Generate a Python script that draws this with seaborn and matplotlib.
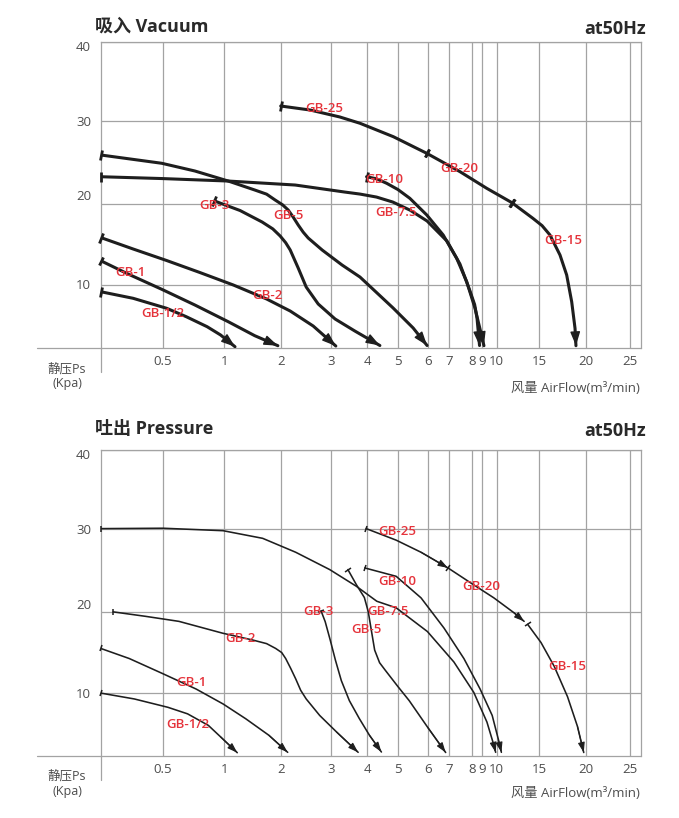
import numpy as np
import pandas as pd
import matplotlib
matplotlib.use("Agg")
import matplotlib.pyplot as plt
import seaborn as sns
from matplotlib.markers import MarkerStyle
from matplotlib.transforms import Affine2D, ScaledTranslation

# ---------------- data ----------------
models = ["GB-1/2", "GB-1", "GB-2", "GB-3", "GB-5", "GB-7.5", "GB-10", "GB-25", "GB-20", "GB-15"]

x_ticks = [0.5, 1, 2, 3, 4, 5, 6, 7, 8, 9, 10, 15, 20, 25]
x_tick_labels = ["0.5", "1", "2", "3", "4", "5", "6", "7", "8", "9", "10", "15", "20", "25"]
y_ticks = [10, 20, 30, 40]
y_tick_labels = ["10", "20", "30", "40"]

vacuum_flow = {
    "GB-1/2": [0, 0.26, 0.53, 0.69, 0.86, 0.97, 1.19],
    "GB-1":   [0, 0.22, 0.49, 0.76, 1.07, 1.54, 1.95],
    "GB-2":   [0, 0.26, 0.53, 0.80, 1.16, 1.75, 2.19, 2.65, 3.14],
    "GB-3":   [0.92, 1.28, 1.67, 1.86, 1.99, 2.10, 2.19, 2.35, 2.51, 2.75, 3.12, 3.66, 4.41],
    "GB-5":   [0, 0.49, 0.76, 1.07, 1.54, 1.75, 1.90, 2.04, 2.15, 2.25, 2.35, 2.45, 2.55, 2.83, 3.31, 3.80, 4.84, 5.50, 5.96],
    "GB-7.5": [0, 0.49, 1.07, 2.29, 3.39, 3.80, 4.30, 4.83, 5.40, 5.96, 6.90, 7.47, 7.90, 8.25, 8.50, 8.77],
    "GB-10":  [3.98, 4.30, 4.63, 5.00, 5.39, 5.95, 6.72, 7.33, 7.76, 8.29, 8.60, 8.89, 9.15],
    "GB-25":  [2.0, 2.59, 3.25, 3.80, 4.85, 5.95],
    "GB-20":  [5.95, 7.47, 9.33, 11.76],
    "GB-15":  [11.76, 14.25, 15.30, 16.15, 17.23, 17.95, 18.49, 18.85, 18.95],
}
vacuum_ps = {
    "GB-1/2": [8.94, 7.9, 6.32, 4.99, 3.41, 2.1, 0.25],
    "GB-1":   [12.99, 11.35, 9.32, 6.84, 4.2, 1.99, 0.41],
    "GB-2":   [15.84, 14.43, 13.01, 11.54, 10.0, 7.79, 5.89, 3.52, 0.36],
    "GB-3":   [20.33, 19.16, 17.75, 16.9, 16.03, 15.2, 14.31, 12.09, 9.68, 7.0, 4.63, 2.73, 0.44],
    "GB-5":   [25.87, 24.87, 23.94, 22.73, 21.65, 21.15, 20.45, 19.85, 19.22, 18.35, 17.38, 16.5, 15.78, 14.3, 12.46, 10.98, 6.37, 3.21, 0.44],
    "GB-7.5": [23.25, 23.03, 22.73, 22.25, 21.4, 21.16, 20.8, 20.2, 19.2, 17.87, 15.41, 12.58, 9.05, 6.9, 4.79, 0.44],
    "GB-10":  [23.25, 23.0, 22.46, 21.7, 20.65, 18.61, 16.15, 13.28, 10.41, 6.32, 4.4, 2.62, 0.41],
    "GB-25":  [31.86, 31.35, 30.47, 29.69, 28.07, 26.07],
    "GB-20":  [26.07, 23.86, 21.86, 20.14],
    "GB-15":  [20.14, 18.2, 17.3, 16.15, 13.69, 11.23, 7.36, 3.16, 0.41],
}

pressure_flow = {
    "GB-1/2": [0, 0.27, 0.54, 0.70, 0.87, 0.97, 1.23],
    "GB-1":   [0, 0.23, 0.50, 0.77, 0.99, 1.38, 1.79, 2.14],
    "GB-2":   [0.10, 0.36, 0.63, 0.985, 1.50, 1.75, 1.91, 2.02, 2.10, 2.20, 2.30, 2.40, 2.51, 2.78, 3.16, 3.75],
    "GB-3":   [2.81, 2.89, 2.99, 3.13, 3.29, 3.51, 3.78, 4.07, 4.46],
    "GB-5":   [3.47, 3.70, 3.92, 4.03, 4.14, 4.24, 4.40, 4.59, 5.0, 5.37, 5.98, 6.84],
    "GB-7.5": [0, 0.50, 0.99, 1.68, 2.30, 2.98, 3.70, 4.31, 4.94, 5.97, 7.21, 8.16, 9.35, 9.81, 9.93],
    "GB-10":  [3.93, 4.94, 5.76, 6.76, 7.64, 8.83, 9.70, 10.27, 10.55],
    "GB-25":  [3.97, 4.94, 5.76, 6.95],
    "GB-20":  [6.95, 7.93, 9.81, 12.04, 13.22],
    "GB-15":  [13.63, 15.18, 16.61, 18.04, 19.11, 19.79],
}
pressure_ps = {
    "GB-1/2": [9.95, 9.02, 7.7, 6.67, 4.84, 3.02, 0.52],
    "GB-1":   [15.46, 14.21, 12.34, 10.46, 8.23, 5.89, 3.28, 0.58],
    "GB-2":   [19.96, 19.41, 18.79, 17.34, 16.5, 16.05, 15.46, 14.95, 14.21, 13.0, 11.71, 10.3, 9.02, 6.41, 3.8, 0.58],
    "GB-3":   [20.04, 18.75, 16.5, 14.0, 11.5, 8.75, 5.94, 3.28, 0.63],
    "GB-5":   [25.06, 23.25, 21.69, 20.0, 17.5, 15.25, 13.7, 12.75, 10.75, 8.75, 4.53, 0.55],
    "GB-7.5": [30.0, 30.05, 29.75, 28.83, 27.15, 25.06, 23.05, 21.24, 20.45, 17.54, 13.79, 10.04, 5.36, 1.72, 0.58],
    "GB-10":  [25.26, 24.25, 21.65, 17.96, 14.21, 10.46, 6.41, 2.23, 0.58],
    "GB-25":  [30.0, 28.61, 27.15, 25.26],
    "GB-20":  [25.26, 23.46, 21.65, 19.84, 18.79],
    "GB-15":  [18.43, 16.19, 13.25, 9.38, 4.69, 0.55],
}

# ---------------- styling / layout ----------------
INK = "#1e1e1e"
RED = "#e5333b"
GRID = "#a3a3a3"
TXT = "#4d4d4d"
W, H = 679, 818

# axis scale anchor positions (pixels in the 679x818 reference)
X_ANCH_V = [0, 0.5, 1, 2, 3, 4, 5, 6, 7, 8, 9, 10, 15, 20, 25, 26.2]
X_ANCH_P = [100.7, 163, 224.3, 280.7, 330.7, 367.3, 398, 428.3, 449, 472.3, 481.7, 496.7, 539.3, 585.7, 630.3, 641.3]
Y_ANCH_V = [0, 10, 20, 30, 40]
Y_ANCH_P = [0, 63.3, 144.6, 227.6, 306.6]


def fx(v):
    return np.interp(v, X_ANCH_V, X_ANCH_P)


def fx_inv(p):
    return np.interp(p, X_ANCH_P, X_ANCH_V)


def fy(v):
    return np.interp(v, Y_ANCH_V, Y_ANCH_P)


def fy_inv(p):
    return np.interp(p, Y_ANCH_P, Y_ANCH_V)


sns.set_theme(style="white")
plt.rcParams["font.family"] = ["Open Sans", "Noto Sans CJK SC", "DejaVu Sans"]
plt.rcParams["axes.unicode_minus"] = False

fig = plt.figure(figsize=(W / 100, H / 100), dpi=100)
fig.patch.set_facecolor("white")

panels = [
    dict(rect=[100.7 / W, 1 - 348.3 / H, 540.6 / W, 306.6 / H], flow=vacuum_flow, ps=vacuum_ps,
         thick=True, title="吸入 Vacuum", title_base=31.7, hz_base=34.3,
         ps_lab=(369, 383), air_lab=389,
         labels={"GB-25": (2.87, 31.6), "GB-20": (7.43, 24.2), "GB-10": (4.54, 22.86),
                 "GB-7.5": (4.95, 18.86), "GB-15": (17.61, 15.53), "GB-3": (0.92, 19.72),
                 "GB-5": (2.15, 18.49), "GB-1": (0.24, 11.48), "GB-2": (1.76, 8.42),
                 "GB-1/2": (0.50, 5.42)},
         ylab_off={40: 4.0, 30: 0.0, 20: -8.7, 10: -1.0}),
    dict(rect=[100.7 / W, 1 - 756 / H, 540.6 / W, 306.3 / H], flow=pressure_flow, ps=pressure_ps,
         thick=False, title="吐出 Pressure", title_base=434, hz_base=436,
         ps_lab=(776, 791), air_lab=793.3,
         labels={"GB-25": (4.97, 29.6), "GB-20": (8.93, 23.05), "GB-10": (4.97, 23.65),
                 "GB-7.5": (4.69, 20.04), "GB-5": (3.97, 17.75), "GB-15": (17.97, 13.29),
                 "GB-3": (2.75, 20.04), "GB-2": (1.29, 16.71), "GB-1": (0.73, 11.21),
                 "GB-1/2": (0.70, 4.95)},
         ylab_off={40: 4.3, 30: 0.0, 20: -8.0, 10: 0.0}),
]


def perp_tick(ax, x0, y0, x1, y1, size, lw):
    p0 = ax.transData.transform((x0, y0))
    p1 = ax.transData.transform((x1, y1))
    ang = np.degrees(np.arctan2(p1[1] - p0[1], p1[0] - p0[0]))
    m = MarkerStyle("|", transform=Affine2D().rotate_deg(ang))
    ax.plot([x0], [y0], marker=m, ms=size, mew=lw, color=INK, ls="none", clip_on=False, zorder=4)


for pan in panels:
    ax = fig.add_axes(pan["rect"])
    ax.set_xscale("function", functions=(fx, fx_inv))
    ax.set_yscale("function", functions=(fy, fy_inv))
    ax.set_xlim(0, 26.2)
    ax.set_ylim(0, 40)

    rows = []
    for m in models:
        for i, (xv, yv) in enumerate(zip(pan["flow"][m], pan["ps"][m])):
            rows.append({"model": m, "flow": xv, "ps": yv, "i": i})
    df = pd.DataFrame(rows)

    lw = 2.2 if pan["thick"] else 1.15
    sns.lineplot(data=df, x="flow", y="ps", hue="model", palette={m: INK for m in models},
                 estimator=None, sort=False, legend=False, lw=lw, ax=ax, zorder=3,
                 solid_joinstyle="round", solid_capstyle="round")
    ax.set_xlim(0, 26.2)
    ax.set_ylim(0, 40)

    # grid & frame
    ax.set_xticks(x_ticks)
    ax.set_xticklabels(x_tick_labels)
    ax.set_yticks(y_ticks)
    ax.set_yticklabels(y_tick_labels)
    ax.grid(True, color=GRID, lw=0.9)
    ax.tick_params(length=0, labelsize=9.5, labelcolor=TXT)
    ax.tick_params(axis="x", pad=5)
    ax.tick_params(axis="y", pad=7)
    ax.set_xlabel("")
    ax.set_ylabel("")
    for s in ["left", "top", "right"]:
        ax.spines[s].set_color(GRID)
        ax.spines[s].set_linewidth(0.9)
        ax.spines[s].set_visible(True)
    ax.spines["bottom"].set_visible(False)
    ax.plot([-0.117, 1.0], [0, 0], transform=ax.transAxes, color=GRID, lw=0.9, clip_on=False, zorder=2)
    ax.plot([0, 0], [0, -0.078], transform=ax.transAxes, color=GRID, lw=0.9, clip_on=False, zorder=2)

    # start ticks, end arrows / ticks
    tsize = 7.0 if pan["thick"] else 5.0
    tlw = 2.0 if pan["thick"] else 1.1
    for m in models:
        xs, ys = pan["flow"][m], pan["ps"][m]
        perp_tick(ax, xs[0], ys[0], xs[1], ys[1], tsize, tlw)
        mid_end = m in ("GB-25", "GB-20")
        if pan["thick"] and mid_end:
            perp_tick(ax, xs[-1], ys[-1], xs[-2], ys[-2], tsize, tlw)
        else:
            if pan["thick"]:
                style = "-|>,head_length=0.7,head_width=0.25"
                alw = 1.0
            else:
                style = "-|>,head_length=0.5,head_width=0.17"
                alw = 0.8
            ax.annotate("", xy=(xs[-1], ys[-1]), xytext=(xs[-2], ys[-2]),
                        arrowprops=dict(arrowstyle=style, color=INK, lw=alw,
                                        shrinkA=0, shrinkB=0),
                        annotation_clip=False, zorder=4)

    # curve labels
    for m, (lx, ly) in pan["labels"].items():
        ax.text(lx, ly, m, color=RED, fontsize=9.5, fontweight="semibold",
                ha="center", va="center", zorder=5)

    # y tick label offsets (as in the reference)
    for lab, v in zip(ax.get_yticklabels(), y_ticks):
        dy = pan["ylab_off"][v]
        lab.set_transform(lab.get_transform() + ScaledTranslation(0, -dy / 100, fig.dpi_scale_trans))

    # titles and axis captions
    fig.text(95 / W, 1 - pan["title_base"] / H, pan["title"], ha="left", va="baseline",
             fontsize=13, fontweight="bold", color="#2a2a2a")
    fig.text(646 / W, 1 - pan["hz_base"] / H, "at50Hz", ha="right", va="baseline",
             fontsize=13, fontweight="bold", color="#2a2a2a")
    fig.text(67 / W, 1 - pan["ps_lab"][0] / H, "静压Ps", ha="center", va="center",
             fontsize=9, color=TXT)
    fig.text(67 / W, 1 - pan["ps_lab"][1] / H, "(Kpa)", ha="center", va="center",
             fontsize=9, color=TXT)
    fig.text(640 / W, 1 - pan["air_lab"] / H, "风量 AirFlow(m³/min)", ha="right", va="center",
             fontsize=9.5, color=TXT)

fig.savefig("out.png", dpi=100, facecolor="white")
